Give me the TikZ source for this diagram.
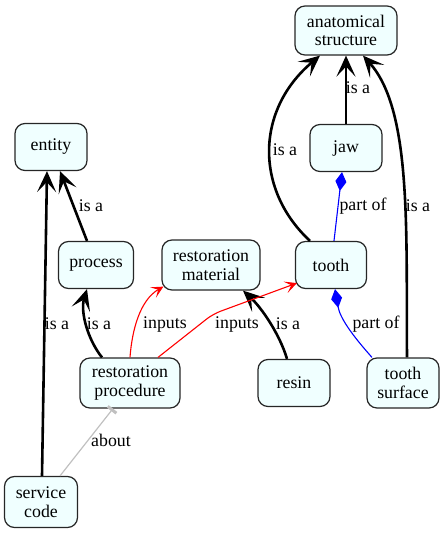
\documentclass[tikz,border=0pt]{standalone}
\usepackage{fontspec}
\setmainfont{Liberation Serif}
\usetikzlibrary{arrows.meta}
\definecolor{nodefill}{HTML}{F0FFFF}
\definecolor{aboutgray}{HTML}{C0C0C0}
\newcommand{\diagfont}{\fontsize{17.8}{18.6}\selectfont}
\tikzset{
  concept/.style={draw=black!85, fill=nodefill, rounded corners=10pt, line width=1.2pt,
    inner sep=0pt, align=center, font=\diagfont},
  isa/.style={line width=2.6pt, -{Stealth[length=21pt,width=19pt,inset=10pt]}},
  inputs/.style={red, line width=1.1pt, -{Stealth[length=12pt,width=12pt,inset=6pt]}},
  partof/.style={blue, line width=1.1pt, -{Diamond[length=19pt,width=11pt]}},
  about/.style={aboutgray, line width=1.2pt, -{Rectangle[length=3pt,width=11pt]}},
  lbl/.style={font=\diagfont, inner sep=0pt}
}
\begin{document}
\begin{tikzpicture}[x=1pt,y=-1pt]
\useasboundingbox (0,0) rectangle (447,533);
% nodes
\node[concept, minimum width=102pt, minimum height=49pt] (as) at (346,30.5) {anatomical\\structure};
\node[concept, minimum width=72pt, minimum height=47pt] (entity) at (51,147) {entity};
\node[concept, minimum width=72pt, minimum height=47pt] (jaw) at (346,148) {jaw};
\node[concept, minimum width=75pt, minimum height=47pt] (process) at (96,265) {process};
\node[concept, minimum width=98pt, minimum height=50pt] (rm) at (211,265) {restoration\\material};
\node[concept, minimum width=71pt, minimum height=47pt] (tooth) at (331,265) {tooth};
\node[concept, minimum width=100pt, minimum height=50pt] (rp) at (130,383) {restoration\\procedure};
\node[concept, minimum width=72pt, minimum height=47pt] (resin) at (294,383) {resin};
\node[concept, minimum width=72pt, minimum height=50pt] (ts) at (403,383) {tooth\\surface};
\node[concept, minimum width=73pt, minimum height=51pt] (sc) at (41,502) {service\\code};
% is a edges
\draw[isa] ([xshift=1pt]sc.north) -- ([xshift=-4pt]entity.south);
\draw[isa] ([xshift=-9pt]process.north) -- ([xshift=9pt]entity.south);
\draw[isa] ([xshift=-28pt]rp.north) .. controls (88,340) and (80,312) .. ([xshift=-9pt]process.south);
\draw[isa] ([xshift=-7pt]resin.north) .. controls (280,335) and (262,308) .. ([xshift=32pt]rm.south);
\draw[isa] ([xshift=-21pt]tooth.north) .. controls (255,190) and (255,110) .. ([xshift=-26pt]as.south);
\draw[isa] (jaw.north) -- (as.south);
\draw[isa] ([xshift=4pt]ts.north) .. controls (406,230) and (412,110) .. ([xshift=17pt]as.south);
% inputs
\draw[inputs] (rp.north) .. controls (132,330) and (140,300) .. ([shift={(2pt,4pt)}]rm.south west);
\draw[inputs, rounded corners=8pt] ([xshift=28pt]rp.north) -- (213,314) -- ([shift={(2pt,6pt)}]tooth.south west);
% part of
\draw[partof] ([xshift=3pt]tooth.north) -- ([xshift=-4pt]jaw.south);
\draw[partof] ([xshift=-31pt]ts.north) .. controls (352,335) and (340,318) .. ([xshift=4pt]tooth.south);
% about
\draw[about] ([xshift=19pt]sc.north) -- ([xshift=-17pt]rp.south);
% labels
\node[lbl] (l1) at (57,324) {is a};
\node[lbl] (l2) at (91,206) {is a};
\node[lbl] (l3) at (99,324) {is a};
\node[lbl] (l4) at (165,324) {inputs};
\node[lbl] (l5) at (237,324) {inputs};
\node[lbl] (l6) at (288,324) {is a};
\node[lbl] (l7) at (285,150) {is a};
\node[lbl] (l8) at (358,88) {is a};
\node[lbl] (l9) at (363,206) {part of};
\node[lbl] (l10) at (418,206) {is a};
\node[lbl] (l11) at (376,324) {part of};
\node[lbl] (l12) at (111,440) {about};
\end{tikzpicture}
\end{document}
